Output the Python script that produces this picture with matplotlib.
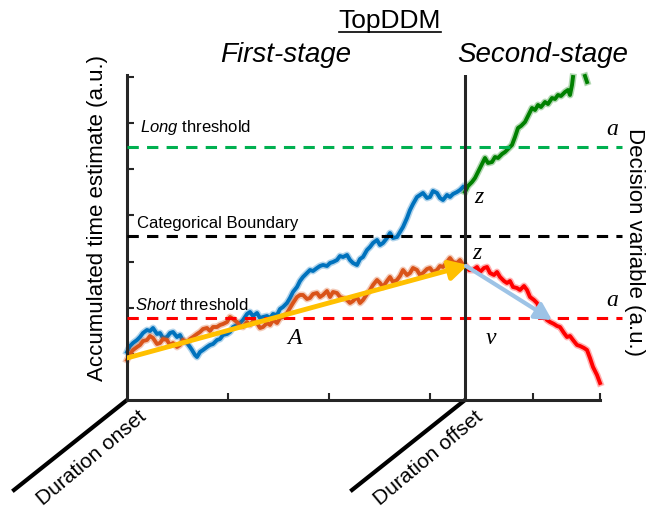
import matplotlib
matplotlib.use("Agg")
import matplotlib.pyplot as plt
from matplotlib.patches import FancyArrowPatch

plt.rcParams['font.family'] = ['Liberation Sans', 'DejaVu Sans']
plt.rcParams['mathtext.fontset'] = 'custom'
plt.rcParams['mathtext.rm'] = 'Liberation Sans'
plt.rcParams['mathtext.it'] = 'Liberation Sans:italic'

# ---------------- data (time, estimate) ----------------
blue_t = [127,130,133,137,140,143,147,150,153,157,160,163,167,170,173,177,180,183,187,190,
          192,195,197,200,203,207,210,213,217,220,223,227,230,233,237,240,243,247,250,253,
          257,260,263,267,270,273,277,280,283,287,290,293,297,300,303,307,310,313,317,320,
          323,327,330,333,337,340,343,347,350,353,357,360,363,367,370,373,377,380,383,387,
          390,393,397,400,403,407,410,413,417,420,423,427,430,433,437,440,443,447,450,453,
          457,460,463]
blue_v = [352,346,343,340,337,333,330,331,328,334,333,338,337,333,332,337,335,341,343,347,
          350,355,357,352,350,347,345,344,340,339,335,334,332,327,325,323,320,314,312,316,
          313,318,317,316,318,314,315,309,307,303,298,292,287,281,277,273,270,271,268,266,
          265,266,263,262,260,256,257,255,260,263,265,259,257,250,247,243,240,245,243,238,
          233,238,237,232,227,218,210,204,197,195,193,198,197,191,193,198,200,195,197,194,
          192,190,187]

orange_t = [127,130,133,137,140,143,147,150,153,157,160,163,167,170,173,177,180,183,187,190,
            193,197,200,203,207,210,213,217,220,223,227,230,233,237,240,243,247,250,253,257,
            260,263,267,270,273,277,280,283,287,290,293,297,300,303,307,310,313,317,320,323,
            327,330,333,337,340,343,347,350,353,357,360,363,367,370,373,377,380,383,387,390,
            393,397,400,403,407,410,413,417,420,423,427,430,433,437,440,443,447,450,453,457,
            460,463]
orange_v = [360,354,350,347,345,341,340,336,338,344,343,339,340,345,343,347,345,340,342,339,
            337,334,332,329,328,331,327,327,325,324,322,317,319,322,326,327,322,325,321,323,
            328,327,323,325,320,323,318,317,313,308,303,297,295,295,299,298,294,293,297,295,
            291,297,292,293,297,298,300,303,301,297,303,300,294,290,285,280,283,287,281,277,
            282,280,276,270,275,273,268,270,275,273,269,268,272,270,266,267,262,258,262,263,
            260,265]

green_t = [465,468,472,475,478,481,485,488,492,495,498,502,505,508,512,515,518,521,525,528,
           532,535,538,541,545,548,552,555,558,561,565,568,570,572,573]
green_v = [192,186,182,178,172,166,158,163,162,157,158,154,152,149,145,137,128,126,122,116,
           108,110,105,107,102,104,98,99,95,96,92,90,95,85,77]
green_blob_t = [585,586,587]
green_blob_v = [76,79,82]

red_t = [465,469,473,477,480,484,487,490,494,497,500,504,507,510,513,517,520,524,527,530,
         534,537,540,544,547,550,554,557,560,564,567,570,573,577,580,584,587,590,593,597,600]
red_v = [265,270,270,267,272,268,267,273,275,272,277,281,283,281,287,288,290,286,290,297,
         300,303,309,316,320,322,324,326,327,333,337,336,340,345,346,348,350,358,367,375,383]

thresholds = {'long': 147, 'boundary': 236, 'short': 318}
drift_A = [(127, 358), (468, 265)]
drift_v = [(466, 266), (552, 320)]

# ---------------- figure ----------------
W, H = 648, 511
fig = plt.figure(figsize=(W/100, H/100), dpi=100)
x0, x1, y0, y1 = 127, 600, 400, 75
ax = fig.add_axes([x0/W, 1-y0/H, (x1-x0)/W, (y0-y1)/H])
ax.set_xlim(x0, x1)
ax.set_ylim(y0, y1)
axc = '#262626'
for s in ['top', 'right']:
    ax.spines[s].set_visible(False)
for s in ['left', 'bottom']:
    ax.spines[s].set_linewidth(2.2)
    ax.spines[s].set_color(axc)
ax.set_xticks([228, 329, 430, 533, 600])
ax.set_yticks([354, 308, 262, 215, 169, 123, 77])
ax.tick_params(direction='in', length=5, width=1.5, color=axc,
               labelbottom=False, labelleft=False)


def trace(t, v, c, z):
    ax.plot(t, v, color=c, lw=5.0, alpha=0.3, zorder=z, clip_on=False)
    ax.plot(t, v, color=c, lw=2.8, zorder=z, clip_on=False)


trace(blue_t, blue_v, '#0072BD', 2)
trace(orange_t, orange_v, '#D95319', 2.1)
trace(green_t, green_v, '#008000', 2)
trace(green_blob_t, green_blob_v, '#008000', 2)
trace(red_t, red_v, '#FF0000', 2)

# thresholds
tcol = {'long': '#00B050', 'boundary': '#000000', 'short': '#FF0000'}
for k, yv in thresholds.items():
    ax.plot([x0, 622], [yv, yv], color=tcol[k], lw=2.2, ls=(0, (3.7, 2.7)),
            clip_on=False, zorder=3)

# second-stage axis
ax.axvline(465, color=axc, lw=2.2, zorder=4)

# arrows
ax.add_patch(FancyArrowPatch(drift_A[0], drift_A[1],
             arrowstyle='-|>,head_length=0.55,head_width=0.3', mutation_scale=20,
             color='#FFC000', lw=3.5, zorder=5, shrinkA=0, shrinkB=0))
ax.add_patch(FancyArrowPatch(drift_v[0], drift_v[1],
             arrowstyle='-|>,head_length=0.55,head_width=0.3', mutation_scale=18,
             color='#9DC3E6', lw=3, zorder=5, shrinkA=0, shrinkB=0))

# time axes (diagonals)
ax.plot([127, 14], [400, 490], color='black', lw=3, clip_on=False)
ax.plot([465, 352], [400, 490], color='black', lw=3, clip_on=False)

# texts
ax.text(92, 458, 'Duration onset', rotation=40, fontsize=15, ha='center', va='center',
        rotation_mode='anchor')
ax.text(428, 458, 'Duration offset', rotation=40, fontsize=15, ha='center', va='center',
        rotation_mode='anchor')

t = ax.text(390, 28, 'TopDDM', fontsize=19, ha='center', va='baseline')
ax.text(286, 62, 'First-stage', fontsize=20, style='italic', ha='center', va='baseline')
ax.text(543, 62, 'Second-stage', fontsize=20, style='italic', ha='center', va='baseline')

ax.text(98, 218, 'Accumulated time estimate (a.u.)', fontsize=16, rotation=90,
        ha='center', va='center')
ax.text(635, 242, 'Decision variable (a.u.)', fontsize=16, rotation=-90,
        ha='center', va='center')

ax.text(140, 132, r'$\mathit{Long}$ threshold', fontsize=12, ha='left', va='baseline')
ax.text(137, 228, 'Categorical Boundary', fontsize=12, ha='left', va='baseline')
ax.text(135, 310, r'$\mathit{Short}$ threshold', fontsize=12, ha='left', va='baseline')

mfont = dict(family='Liberation Serif', style='italic', fontsize=17, ha='center', va='center')
ax.text(294, 338, 'A', **mfont)
ax.text(491, 338, 'v', **mfont)
ax.text(479, 197, 'z', **mfont)
ax.text(477, 253, 'z', **mfont)
ax.text(612, 129, 'a', **mfont)
ax.text(612, 300, 'a', **mfont)

# underline for title
fig.canvas.draw()
bb = t.get_window_extent().transformed(ax.transData.inverted())
ax.plot([bb.x0, bb.x1], [32, 32], color='black', lw=1.2, clip_on=False)

fig.savefig('out.png', dpi=100)
